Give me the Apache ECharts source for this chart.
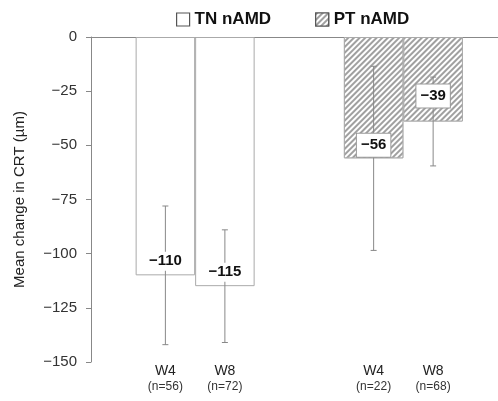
<!DOCTYPE html>
<html>
<head>
<meta charset="utf-8">
<script src="https://cdn.jsdelivr.net/npm/echarts@6/dist/echarts.min.js"></script>
<style>html,body{margin:0;padding:0;background:#fff}#c{width:498px;height:401px}</style>
</head>
<body>
<div id="c"></div>
<script>
// ---- data ----
const groupNames = ['TN nAMD', 'PT nAMD'];
const barGroup = [0, 0, 1, 1];
const weekLabels = ['W4', 'W8', 'W4', 'W8'];
const nPatients = [56, 72, 22, 68];
const meanChange = [-110, -115, -56, -39];
const sdChange = [32, 26, 42.5, 20.5];
const yTickValues = [0, -25, -50, -75, -100, -125, -150];

// ---- layout (not data) ----
const N_SLOTS = 13;
const barSlot = [2, 4, 9, 11];
const labelLift = [14, 14, 13, 25.5];

const slotNames = [];
for (let i = 0; i < N_SLOTS; i++) slotNames.push('s' + i);
const slotLabel = {};
barSlot.forEach((s, i) => { slotLabel['s' + s] = '{w|' + weekLabels[i] + '}\n{n|(n=' + nPatients[i] + ')}'; });

function groupData(g) {
  const arr = new Array(N_SLOTS).fill('-');
  barSlot.forEach((s, i) => { if (barGroup[i] === g) arr[s] = meanChange[i]; });
  return arr;
}
const errData = barSlot.map((s, i) => [s, meanChange[i], sdChange[i], i]);
const minus = v => String(v).replace('-', '\u2212');

const hatch = {
  symbol: 'rect', symbolSize: 1, dashArrayX: [1, 0], dashArrayY: [2, 2],
  rotation: -Math.PI / 4, color: '#a0a0a0', backgroundColor: '#ffffff'
};
const FONT = 'Liberation Sans, Arial, sans-serif';

const chart = echarts.init(document.getElementById('c'), null, {renderer: 'canvas'});
chart.setOption({
  animation: false,
  backgroundColor: '#fff',
  legend: {
    left: 171, top: 6, itemWidth: 13, itemHeight: 13, itemGap: 44, icon: 'rect',
    textStyle: {fontFamily: FONT, fontSize: 17, fontWeight: 'bold', color: '#111'},
    data: [
      {name: groupNames[0], icon: 'rect', itemStyle: {color: '#fff', borderColor: '#555', borderWidth: 1.2}},
      {name: groupNames[1], icon: 'rect', itemStyle: {color: '#fff', borderColor: '#555', borderWidth: 1.2, decal: hatch}}
    ]
  },
  grid: [
    {left: 91, top: 37, bottom: 39, right: 20.25, containLabel: false},
    {left: 91, top: 37, bottom: 39, right: 0, containLabel: false}
  ],
  xAxis: [{
    type: 'category', data: slotNames, position: 'bottom', gridIndex: 0,
    axisLine: {show: false, onZero: false}, axisTick: {show: false},
    axisLabel: {
      interval: 0, margin: 2, formatter: v => slotLabel[v] || '',
      rich: {
        w: {fontFamily: FONT, fontSize: 14, lineHeight: 15, color: '#222'},
        n: {fontFamily: FONT, fontSize: 12, lineHeight: 15, color: '#333'}
      }
    }
  }, {
    type: 'value', position: 'top', gridIndex: 1, min: 0, max: 1,
    axisLine: {show: true, onZero: false, lineStyle: {color: '#888', width: 1}},
    axisTick: {show: false}, axisLabel: {show: false}, splitLine: {show: false}
  }],
  yAxis: [{
    type: 'value', min: -150, max: 0, interval: 25, gridIndex: 0,
    name: 'Mean change in CRT (\u00b5m)', nameLocation: 'middle', nameGap: 64,
    nameTextStyle: {fontFamily: FONT, fontSize: 15, color: '#222'},
    axisLine: {show: true, lineStyle: {color: '#888'}},
    axisTick: {show: true, length: 5, lineStyle: {color: '#888'}},
    axisLabel: {
      margin: 14, fontFamily: FONT, fontSize: 15, color: '#333',
      formatter: v => yTickValues.indexOf(v) >= 0 ? minus(v) : ''
    },
    splitLine: {show: false}
  }, {
    type: 'value', min: -150, max: 0, gridIndex: 1, show: false
  }],
  series: [{
    name: groupNames[0], type: 'bar', data: groupData(0), barWidth: 59.5, barGap: '-100%', z: 2,
    itemStyle: {color: '#fff', borderColor: '#aaa', borderWidth: 1}
  }, {
    name: groupNames[1], type: 'bar', data: groupData(1), barWidth: 59.5, barGap: '-100%', z: 2,
    itemStyle: {color: '#fff', borderColor: '#aaa', borderWidth: 1, decal: hatch}
  }, {
    type: 'custom', z: 5, data: errData,
    renderItem: function (params, api) {
      const x = api.value(0), m = api.value(1), sd = api.value(2), idx = api.value(3);
      const top = api.coord([x, m + sd]);
      const bot = api.coord([x, m - sd]);
      const end = api.coord([x, m]);
      const cap = 3;
      const ls = {stroke: '#888', lineWidth: 1};
      const isPT = barGroup[idx] === 1;
      return {
        type: 'group',
        children: [
          {type: 'line', shape: {x1: top[0], y1: top[1], x2: bot[0], y2: bot[1]}, style: ls},
          {type: 'line', shape: {x1: top[0] - cap, y1: top[1], x2: top[0] + cap, y2: top[1]}, style: ls},
          {type: 'line', shape: {x1: bot[0] - cap, y1: bot[1], x2: bot[0] + cap, y2: bot[1]}, style: ls},
          {type: 'text', x: end[0], y: end[1] - labelLift[idx], z2: 10,
            style: {
              text: minus(meanChange[idx]), fill: '#111',
              font: 'bold 15px "Liberation Sans", Arial, sans-serif',
              align: 'center', verticalAlign: 'middle',
              backgroundColor: '#fff',
              borderColor: isPT ? '#999' : 'transparent', borderWidth: isPT ? 1 : 0,
              padding: isPT ? [4, 4] : [2, 2]
            }}
        ]
      };
    }
  }]
});
</script>
</body>
</html>
